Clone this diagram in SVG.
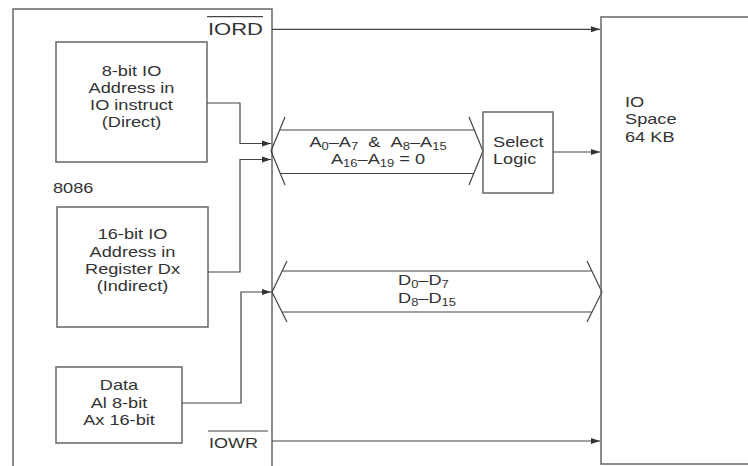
<svg xmlns="http://www.w3.org/2000/svg" width="748" height="466" viewBox="0 0 748 466">
<style>
.box{fill:none;stroke:#666;stroke-width:1.5}
.ln{fill:none;stroke:#444;stroke-width:1.2}
.arr{fill:none;stroke:#444;stroke-width:1.2;marker-end:url(#ah)}
text{font-family:"Liberation Sans",Arial,sans-serif;font-size:14px;fill:#333}
.c{text-anchor:middle}
.sub{font-size:10px}
</style>
<defs>
<marker id="ah" markerWidth="10" markerHeight="8" refX="9" refY="4" orient="auto" markerUnits="userSpaceOnUse">
<path d="M0,1 L9,4 L0,7 z" fill="#333"/>
</marker>
</defs>
<rect width="748" height="466" fill="#fff"/>

<g id="cpu8086">
<path class="box" d="M13,470 V9 H272 V470"/>
<text transform="translate(53 193) scale(1.3 1)">8086</text>
<text x="208" y="35" textLength="55" lengthAdjust="spacingAndGlyphs" style="font-size:16px">IORD</text>
<line class="ln" x1="207" y1="16.7" x2="263" y2="16.7"/>
<text x="209" y="448" textLength="49" lengthAdjust="spacingAndGlyphs" style="font-size:15px">IOWR</text>
<line class="ln" x1="208" y1="431" x2="268" y2="431"/>
</g>

<g id="direct">
<rect class="box" x="56" y="42" width="151" height="120"/>
<text class="c" transform="translate(131.5 76) scale(1.3 1)">8-bit IO</text>
<text class="c" transform="translate(131.5 93) scale(1.3 1)">Address in</text>
<text class="c" transform="translate(131.5 110) scale(1.3 1)">IO instruct</text>
<text class="c" transform="translate(131.5 127) scale(1.3 1)">(Direct)</text>
</g>

<g id="indirect">
<rect class="box" x="57" y="207" width="151" height="120"/>
<text class="c" transform="translate(132.5 239) scale(1.3 1)">16-bit IO</text>
<text class="c" transform="translate(132.5 256.5) scale(1.3 1)">Address in</text>
<text class="c" transform="translate(132.5 274) scale(1.3 1)">Register Dx</text>
<text class="c" transform="translate(132.5 291) scale(1.3 1)">(Indirect)</text>
</g>

<g id="data">
<rect class="box" x="56" y="367" width="126" height="76"/>
<text class="c" transform="translate(119 390) scale(1.3 1)">Data</text>
<text class="c" transform="translate(119 407.5) scale(1.3 1)">Al 8-bit</text>
<text class="c" transform="translate(119 425) scale(1.3 1)">Ax 16-bit</text>
</g>

<g id="addrbus">
<path class="ln" d="M285,117 L271,151 L285,185 M469,117 L483,151 L469,185 M279.6,130 H474.4 M280.3,173.5 H473.7"/>
<text class="c" transform="translate(378 146.5) scale(1.3 1)">A<tspan class="sub" dy="3">0</tspan><tspan dy="-3">–A</tspan><tspan class="sub" dy="3">7</tspan><tspan dy="-3">&#160;&#160;&amp;&#160;&#160;A</tspan><tspan class="sub" dy="3">8</tspan><tspan dy="-3">–A</tspan><tspan class="sub" dy="3">15</tspan></text>
<text class="c" transform="translate(378 164) scale(1.3 1)">A<tspan class="sub" dy="3">16</tspan><tspan dy="-3">–A</tspan><tspan class="sub" dy="3">19</tspan><tspan dy="-3"> = 0</tspan></text>
</g>

<g id="select">
<rect class="box" x="483" y="112" width="70" height="81"/>
<text transform="translate(493 147) scale(1.3 1)">Select</text>
<text transform="translate(493 164) scale(1.3 1)">Logic</text>
</g>

<g id="databus">
<path class="ln" d="M287,261 L272,292 L287,322 M587,261 L602,292 L587,322 M282,271 H592 M282,312 H592"/>
<text transform="translate(398 285) scale(1.3 1)">D<tspan class="sub" dy="3">0</tspan><tspan dy="-3">–D</tspan><tspan class="sub" dy="3">7</tspan></text>
<text transform="translate(398 303) scale(1.3 1)">D<tspan class="sub" dy="3">8</tspan><tspan dy="-3">–D</tspan><tspan class="sub" dy="3">15</tspan></text>
</g>

<g id="iospace">
<path class="box" d="M752,17 H601 V464 H752"/>
<text transform="translate(625 107) scale(1.3 1)">IO</text>
<text transform="translate(625 124) scale(1.3 1)">Space</text>
<text transform="translate(625 141.5) scale(1.3 1)">64 KB</text>
</g>

<g id="connectors">
<path class="arr" d="M272,29.3 H600"/>
<path class="arr" d="M207,103 H240 V143.5 H271"/>
<path class="arr" d="M208,272 H240 V159.5 H271"/>
<path class="arr" d="M182,403 H241 V292 H271"/>
<path class="arr" d="M553,152 H600"/>
<path class="arr" d="M272,441 H600"/>
</g>
</svg>
